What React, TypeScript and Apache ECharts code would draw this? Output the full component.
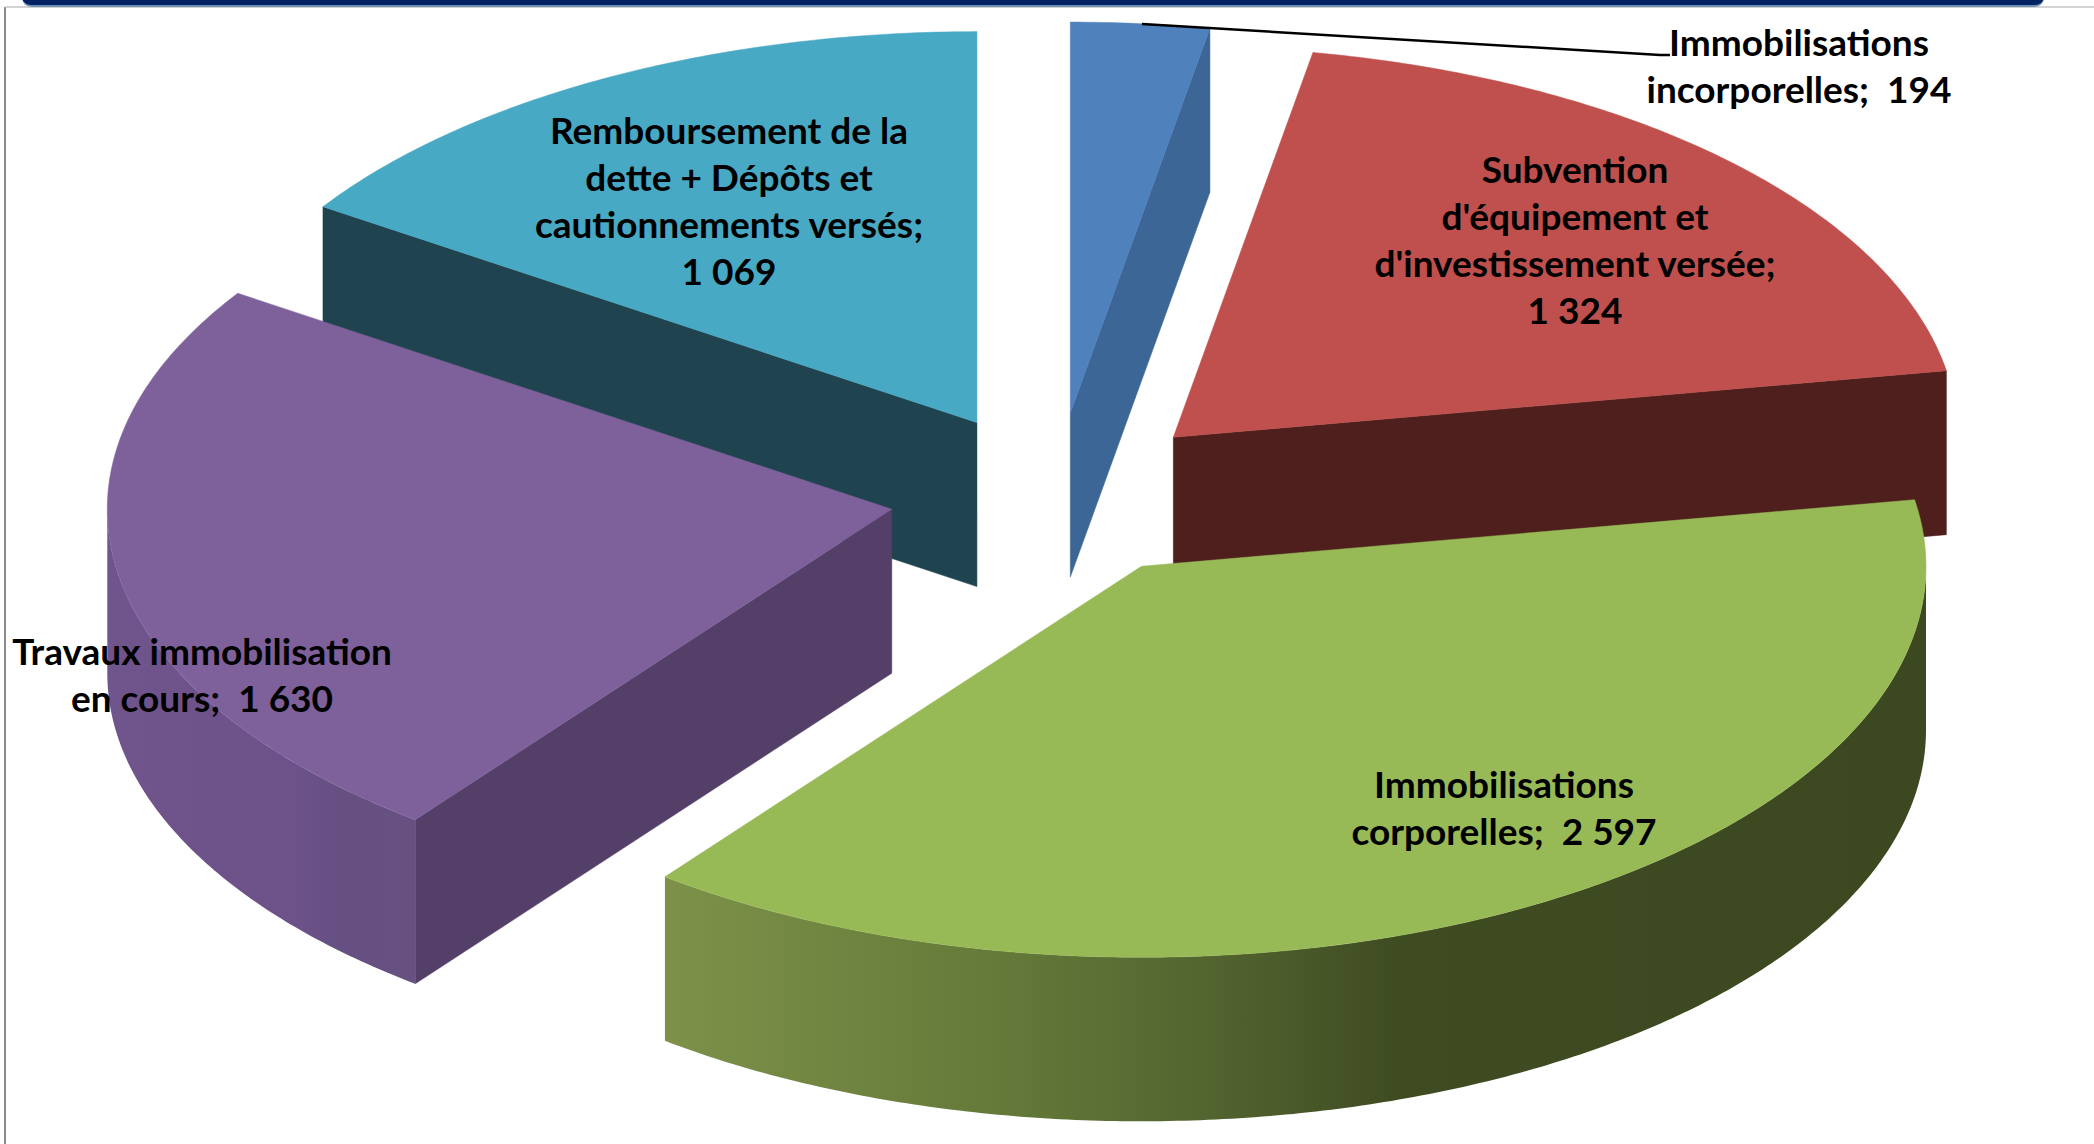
import React, { useEffect, useRef } from "react";
import * as echarts from "echarts";

const categories = [
  "Immobilisations incorporelles",
  "Subvention d'équipement et d'investissement versée",
  "Immobilisations corporelles",
  "Travaux immobilisation en cours",
  "Remboursement de la dette + Dépôts et cautionnements versés",
];
const values = [194, 1324, 2597, 1630, 1069];
const labelLines = [
  ["Immobilisations", "incorporelles;  194"],
  ["Subvention", "d'équipement et", "d'investissement versée;", "1 324"],
  ["Immobilisations", "corporelles;  2 597"],
  ["Travaux immobilisation", "en cours;  1 630"],
  ["Remboursement de la", "dette + Dépôts et", "cautionnements versés;", "1 069"],
];
const drawOrder = [0, 4, 1, 3, 2]; // back to front
const topColors = ["#4f81bd", "#bf504d", "#98ba56", "#7e609b", "#47a9c4"];
const cutColors = ["#3c6696", "#4e1f1c", "#3e4a21", "#533f68", "#1f444f"];

const CX = 1055.5, CY = 495.5, RX = 784.5, RY = 391, DEPTH = 164, EXPLODE = 166;
const total = values.reduce((a, b) => a + b, 0);
const labelPos: [number, number][] = [[1799, 41], [1575, 168], [1504, 783], [202, 650], [729, 129]];
const labelGap = 47;

const wallFill = (i: number) =>
  i === 2
    ? new echarts.graphic.LinearGradient(0, 0, 1, 0, [
        { offset: 0, color: "#7d9149" },
        { offset: 0.25, color: "#667b3a" },
        { offset: 0.42, color: "#546630" },
        { offset: 0.58, color: "#3f4c22" },
        { offset: 1, color: "#3c4820" },
      ])
    : new echarts.graphic.LinearGradient(0, 0, 1, 0, [
        { offset: 0, color: "#70548c" },
        { offset: 0.6, color: "#6c5289" },
        { offset: 0.75, color: "#665082" },
        { offset: 1, color: "#675181" },
      ]);

function renderSlice(params: any, api: any) {
  const i = params.dataIndex;
  const before = values.slice(0, i).reduce((a, b) => a + b, 0);
  const s = (before / total) * Math.PI * 2;
  const e = ((before + api.value(0)) / total) * Math.PI * 2;
  const m = (s + e) / 2;
  const ox = CX + EXPLODE * Math.sin(m);
  const oy = CY - (EXPLODE * Math.cos(m) * RY) / RX;
  const pt = (t: number, d = 0): [number, number] => [ox + RX * Math.sin(t), oy - RY * Math.cos(t) + d];
  const arc = (a: number, b: number, d = 0) => {
    const n = Math.max(2, Math.ceil(Math.abs(b - a) / 0.01));
    const out: [number, number][] = [];
    for (let k = 0; k <= n; k++) out.push(pt(a + ((b - a) * k) / n, d));
    return out;
  };
  const z2 = drawOrder.indexOf(i) * 10 + 1;
  const children: any[] = [];
  const face = (t: number) => ({
    type: "polygon",
    z2,
    shape: { points: [[ox, oy], pt(t), pt(t, DEPTH), [ox, oy + DEPTH]] },
    style: { fill: cutColors[i], stroke: cutColors[i], lineWidth: 0.5 },
  });
  if (Math.sin(s) < -1e-6) children.push(face(s));
  if (Math.sin(e) > 1e-6) children.push(face(e));
  const wa = Math.max(s, Math.PI / 2);
  const wb = Math.min(e, (Math.PI * 3) / 2);
  if (wb > wa) {
    children.push({
      type: "polygon",
      z2: z2 + 1,
      shape: { points: [...arc(wa, wb), ...arc(wb, wa, DEPTH)] },
      style: { fill: wallFill(i) },
    });
  }
  children.push({
    type: "polygon",
    z2: z2 + 2,
    shape: { points: [[ox, oy], ...arc(s, e)] },
    style: { fill: topColors[i], stroke: topColors[i], lineWidth: 0.5 },
  });
  return { type: "group", children };
}

export default function App() {
  const ref = useRef<HTMLDivElement>(null);
  useEffect(() => {
    document.body.style.margin = "0";
    const chart = echarts.init(ref.current!, undefined, { renderer: "svg" });
    const textEls: any[] = [];
    labelLines.forEach((lines, i) => {
      lines.forEach((line, j) => {
        textEls.push({
          type: "text",
          z: 50,
          x: labelPos[i][0],
          y: labelPos[i][1] + j * labelGap,
          style: {
            text: line,
            fill: "#000",
            font: 'bold 37px Lato, "Open Sans", sans-serif',
            textAlign: "center",
            textVerticalAlign: "middle",
          },
        });
      });
    });
    chart.setOption({
      animation: false,
      backgroundColor: "#ffffff",
      series: [
        {
          type: "custom",
          coordinateSystem: "none",
          renderItem: renderSlice,
          clip: false,
          silent: true,
          data: categories.map((name, i) => ({ name, value: [values[i]] })),
        },
      ],
      graphic: [
        { type: "line", z: 40, shape: { x1: 5, y1: 7, x2: 5, y2: 1144 }, style: { stroke: "#8a8a8a", lineWidth: 2 } },
        { type: "line", z: 40, shape: { x1: 5, y1: 7, x2: 2094, y2: 7 }, style: { stroke: "#c4c4c4", lineWidth: 1.5 } },
        { type: "rect", z: 41, shape: { x: 22, y: -12, width: 2022, height: 17, r: 10 }, style: { fill: "#012163" } },
        { type: "rect", z: 40, shape: { x: 22, y: -12, width: 2022, height: 19, r: 10 }, style: { fill: "#6c8fb5" } },
        {
          type: "polyline",
          z: 45,
          shape: { points: [[1142, 24], [1660, 55], [1670, 55]] },
          style: { stroke: "#000", lineWidth: 2.5, fill: "none" },
        },
        ...textEls,
      ],
    });
    return () => chart.dispose();
  }, []);
  return <div ref={ref} style={{ width: 2094, height: 1144 }} />;
}
